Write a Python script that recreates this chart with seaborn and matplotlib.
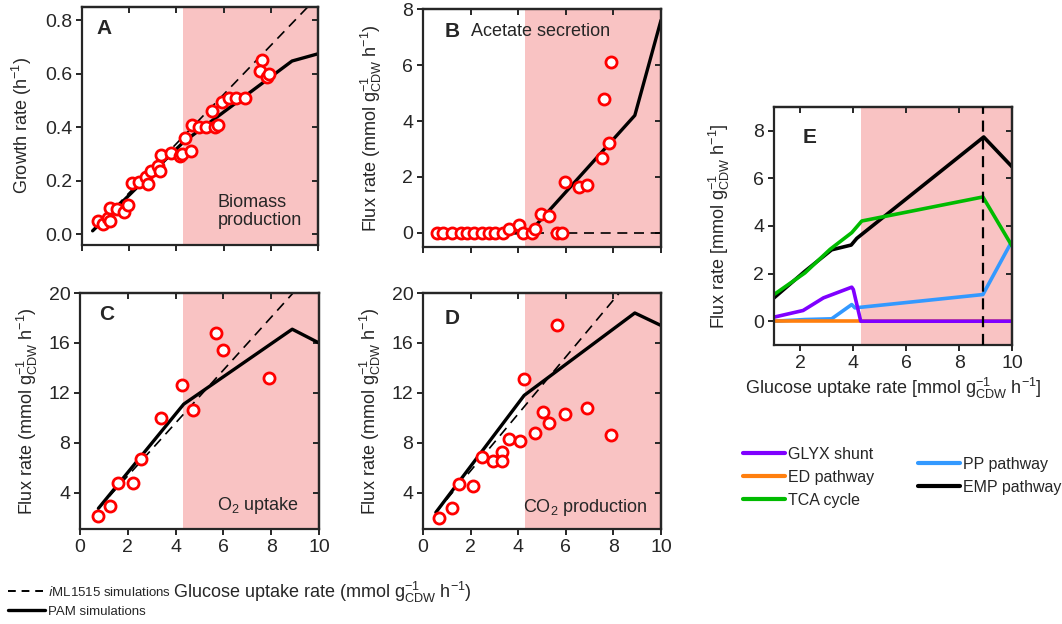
import matplotlib
matplotlib.use("Agg")
import matplotlib.pyplot as plt
import seaborn as sns
from matplotlib.lines import Line2D

# ---------------- data ----------------
# A: growth rate
growth_x = [0.66, 0.9, 1.1, 1.2, 1.18, 1.49, 1.77, 1.97, 2.10, 2.42, 2.73, 2.80, 2.94,
            3.23, 3.32, 3.35, 3.75, 4.14, 4.25, 4.35, 4.63, 4.66, 4.96, 5.24, 5.49,
            5.62, 5.76, 5.94, 6.23, 6.54, 6.89, 7.63, 7.55, 7.83, 7.92]
growth_y = [0.051, 0.04, 0.06, 0.05, 0.10, 0.095, 0.085, 0.108, 0.19, 0.197, 0.216, 0.187,
            0.235, 0.254, 0.235, 0.296, 0.305, 0.293, 0.30, 0.36, 0.31, 0.41, 0.403,
            0.40, 0.46, 0.40, 0.41, 0.496, 0.51, 0.51, 0.51, 0.65, 0.61, 0.59, 0.60]
growth_pam_x = [0.45, 4.3, 8.9, 10]
growth_pam_y = [0.013, 0.345, 0.648, 0.675]
growth_iml_x = [0.45, 10]
growth_iml_y = [0.013, 0.89]

# B: acetate secretion
acetate_x = [0.59, 0.82, 1.2, 1.58, 1.83, 2.14, 2.46, 2.79, 3.03, 3.35, 3.62, 4.04, 4.2,
             4.58, 4.69, 4.97, 5.28, 5.63, 5.85, 5.96, 6.55, 6.9, 7.54, 7.61, 7.82, 7.89]
acetate_y = [0, 0, 0, 0, 0, 0, 0, 0, 0, 0, 0.14, 0.27, 0, 0, 0.14, 0.68, 0.6, 0, 0,
             1.83, 1.64, 1.70, 2.69, 4.78, 3.22, 6.09]
acetate_pam_x = [0.45, 4.45, 8.9, 10]
acetate_pam_y = [0, 0, 4.2, 7.6]
acetate_iml_x = [0.45, 10]
acetate_iml_y = [0, 0]

# C: O2 uptake
o2_x = [0.74, 1.26, 1.57, 2.21, 2.55, 3.38, 4.27, 4.71, 5.68, 5.97, 7.90]
o2_y = [2.16, 2.93, 4.75, 4.75, 6.67, 10.0, 12.6, 10.6, 16.8, 15.4, 13.2]
o2_pam_x = [0.77, 4.34, 8.88, 10]
o2_pam_y = [2.75, 11.1, 17.1, 16.0]
o2_iml_x = [0.77, 10]
o2_iml_y = [2.75, 22.3]

# D: CO2 production
co2_x = [0.68, 1.2, 1.52, 2.11, 2.46, 2.96, 3.34, 3.34, 3.62, 4.06, 4.23, 4.69, 5.04,
         5.28, 5.63, 5.96, 6.9, 7.89]
co2_y = [2.02, 2.82, 4.69, 4.53, 6.88, 6.56, 7.23, 6.56, 8.27, 8.17, 13.1, 8.75, 10.5,
         9.56, 17.4, 10.3, 10.8, 8.6]
co2_pam_x = [0.54, 4.25, 8.9, 10]
co2_pam_y = [2.43, 11.8, 18.4, 17.4]
co2_iml_x = [0.54, 10]
co2_iml_y = [2.43, 24.0]

# E: pathway fluxes
emp_x = [1, 2.17, 3.18, 3.92, 4.13, 8.93, 10]
emp_y = [0.98, 2.1, 3.0, 3.2, 3.48, 7.74, 6.49]
tca_x = [1, 2.17, 3.12, 3.94, 4.32, 8.9, 10]
tca_y = [1.12, 2.03, 3.02, 3.72, 4.21, 5.22, 3.16]
glyx_x = [1, 2.1, 2.87, 3.94, 4.0, 4.28, 10]
glyx_y = [0.17, 0.45, 0.98, 1.43, 1.33, 0.0, 0.0]
pp_x = [1, 2.17, 3.18, 3.94, 4.06, 8.9, 10]
pp_y = [0, 0.07, 0.1, 0.7, 0.56, 1.12, 3.37]
ed_x = [1, 10]
ed_y = [0, 0]

overflow_start = 4.3
e_switch = 8.9

# ---------------- style ----------------
sns.set_style("ticks")
plt.rcParams["font.family"] = ["Liberation Sans", "DejaVu Sans"]
plt.rcParams["mathtext.default"] = "regular"
plt.rcParams["axes.linewidth"] = 1.6

PINK = "#F9C3C3"
FS = 13
TFS = 14
flux_label = r"Flux rate (mmol g$_{CDW}^{-1}$ h$^{-1}$)"


def style_axis(ax, xlim, ylim, yticks, xticks, xlabels=True):
    ax.set_xlim(xlim)
    ax.set_ylim(ylim)
    ax.set_yticks(yticks)
    ax.set_xticks(xticks)
    ax.tick_params(direction="out", length=4, width=1.4, labelsize=TFS, pad=3,
                   labelbottom=xlabels)
    top = ax.secondary_xaxis("top")
    top.set_xticks(xticks)
    top.tick_params(direction="in", length=4, width=1.4, labeltop=False)
    right = ax.secondary_yaxis("right")
    right.set_yticks(yticks)
    right.tick_params(direction="in", length=4, width=1.4, labelright=False)
    for sp in list(ax.spines.values()) + [top.spines["top"], right.spines["right"]]:
        sp.set_linewidth(1.6)
        sp.set_visible(True)
    ax.axvspan(overflow_start, 10, color=PINK, lw=0, zorder=0)


def sim_panel(ax, px, py, ix, iy, mx, my):
    sns.lineplot(x=ix, y=iy, ax=ax, color="black", lw=1.2, linestyle=(0, (6, 4)),
                 estimator=None, zorder=2)
    sns.lineplot(x=px, y=py, ax=ax, color="black", lw=2.4, estimator=None, zorder=2)
    sns.scatterplot(x=mx, y=my, ax=ax, s=64, color="white", edgecolor="red",
                    linewidth=2.0, zorder=3)
    ax.set_xlabel("")


fig = plt.figure(figsize=(10.62, 6.24), dpi=100)
W, H = 1062, 624


def add_ax(l, t, r, b):
    return fig.add_axes([l / W, 1 - b / H, (r - l) / W, (b - t) / H])


axA = add_ax(82, 7, 318, 245)
axB = add_ax(423, 9, 661, 247)
axC = add_ax(80, 293, 319, 529)
axD = add_ax(423, 293, 661, 529)
axE = add_ax(774, 107, 1012, 345)

xt = [0, 2, 4, 6, 8, 10]

# A
sim_panel(axA, growth_pam_x, growth_pam_y, growth_iml_x, growth_iml_y, growth_x, growth_y)
style_axis(axA, (0, 10), (-0.04, 0.85), [0, 0.2, 0.4, 0.6, 0.8], xt, xlabels=False)
axA.set_yticklabels(["0.0", "0.2", "0.4", "0.6", "0.8"])
axA.set_ylabel(r"Growth rate (h$^{-1}$)", fontsize=FS, labelpad=8)
axA.text(0.06, 0.91, "A", transform=axA.transAxes, fontsize=15, fontweight="bold", va="center")
axA.text(0.575, 0.14, "Biomass\nproduction", transform=axA.transAxes, fontsize=FS,
         va="center", ha="left", linespacing=1.1)

# B
sim_panel(axB, acetate_pam_x, acetate_pam_y, acetate_iml_x, acetate_iml_y, acetate_x, acetate_y)
style_axis(axB, (0, 10), (-0.5, 8), [0, 2, 4, 6, 8], xt, xlabels=False)
axB.set_ylabel(flux_label, fontsize=FS, labelpad=13)
axB.text(0.09, 0.905, "B", transform=axB.transAxes, fontsize=15, fontweight="bold", va="center")
axB.text(0.2, 0.905, "Acetate secretion", transform=axB.transAxes, fontsize=FS, va="center")

# C
sim_panel(axC, o2_pam_x, o2_pam_y, o2_iml_x, o2_iml_y, o2_x, o2_y)
style_axis(axC, (0, 10), (1.1, 20), [4, 8, 12, 16, 20], xt)
axC.set_ylabel(flux_label, fontsize=FS, labelpad=6)
axC.text(0.08, 0.91, "C", transform=axC.transAxes, fontsize=15, fontweight="bold", va="center")
axC.text(0.573, 0.10, r"O$_2$ uptake", transform=axC.transAxes, fontsize=FS, va="center")

# D
sim_panel(axD, co2_pam_x, co2_pam_y, co2_iml_x, co2_iml_y, co2_x, co2_y)
style_axis(axD, (0, 10), (1.1, 20), [4, 8, 12, 16, 20], xt)
axD.set_ylabel(flux_label, fontsize=FS, labelpad=6)
axD.text(0.09, 0.89, "D", transform=axD.transAxes, fontsize=15, fontweight="bold", va="center")
axD.text(0.42, 0.09, r"CO$_2$ production", transform=axD.transAxes, fontsize=FS, va="center")

# E
e_lines = [
    (pp_x, pp_y, "#3399FF", "PP pathway"),
    (ed_x, ed_y, "#FF7F0E", "ED pathway"),
    (glyx_x, glyx_y, "#7F00FF", "GLYX shunt"),
    (emp_x, emp_y, "black", "EMP pathway"),
    (tca_x, tca_y, "#00BB00", "TCA cycle"),
]
handles = {}
for x, y, c, lab in e_lines:
    sns.lineplot(x=x, y=y, ax=axE, color=c, lw=2.6, estimator=None, zorder=2)
    handles[lab] = Line2D([], [], color=c, lw=3)
axE.axvline(e_switch, color="black", lw=1.6, linestyle=(0, (5, 3)), zorder=3)
style_axis(axE, (1, 10), (-1, 9), [0, 2, 4, 6, 8], [2, 4, 6, 8, 10])
axE.set_ylabel(r"Flux rate [mmol g$_{CDW}^{-1}$ h$^{-1}$]", fontsize=FS, labelpad=15)
axE.set_xlabel(r"Glucose uptake rate [mmol g$_{CDW}^{-1}$ h$^{-1}$]", fontsize=FS, labelpad=3)
axE.text(0.12, 0.87, "E", transform=axE.transAxes, fontsize=15, fontweight="bold", va="center")

leg_kw = dict(frameon=False, fontsize=11.5, handlelength=2.6, handletextpad=0.2,
              labelspacing=0.5, borderpad=0, borderaxespad=0, loc="upper left")
fig.legend(handles=[handles[k] for k in ["GLYX shunt", "ED pathway", "TCA cycle"]],
           labels=["GLYX shunt", "ED pathway", "TCA cycle"],
           bbox_to_anchor=(743 / W, 1 - 447 / H), **leg_kw)
fig.legend(handles=[handles[k] for k in ["PP pathway", "EMP pathway"]],
           labels=["PP pathway", "EMP pathway"],
           bbox_to_anchor=(918 / W, 1 - 457 / H), **leg_kw)

# bottom-left legend and shared x label
sim_handles = [Line2D([], [], color="black", lw=1.4, linestyle=(0, (4, 3))),
               Line2D([], [], color="black", lw=2.4)]
fig.legend(handles=sim_handles,
           labels=[r"$\mathit{i}$ML1515 simulations", "PAM simulations"],
           frameon=False, handlelength=2.8, handletextpad=0.2, labelspacing=0.5,
           borderpad=0, borderaxespad=0, loc="upper left",
           bbox_to_anchor=(8 / W, 1 - 585 / H), fontsize=9.5)
fig.text(173 / W, 1 - 592 / H, r"Glucose uptake rate (mmol g$_{CDW}^{-1}$ h$^{-1}$)",
         fontsize=FS, ha="left", va="center")

fig.savefig("out.png", dpi=100)
